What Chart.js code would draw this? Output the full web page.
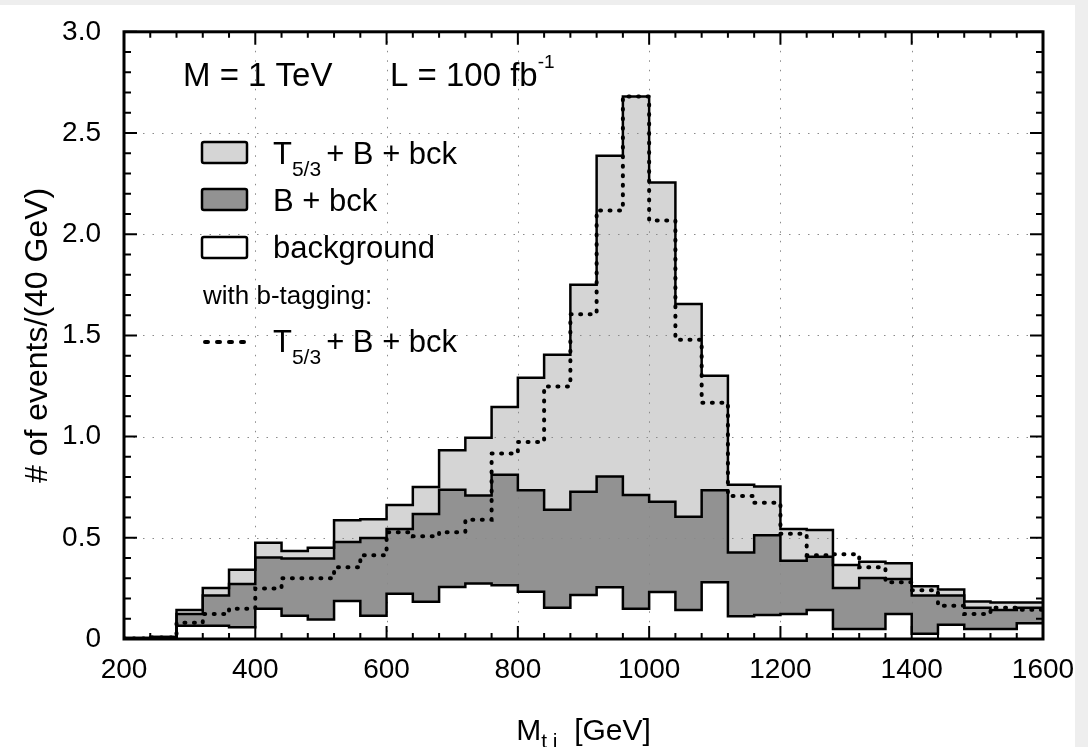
<!DOCTYPE html>
<html>
<head>
<meta charset="utf-8">
<title>M_tj distribution</title>
<script src="https://cdn.jsdelivr.net/npm/chart.js@4.4.1/dist/chart.umd.min.js"></script>
<style>
  html, body { margin: 0; padding: 0; background: #eeeeee; }
  #wrap { width: 1088px; height: 747px; position: relative; }
</style>
</head>
<body>
<div id="wrap"><canvas id="mtjChart"></canvas></div>
<script>
// 40 GeV bins, lower edges plus the final upper edge
const binEdges = [200, 240, 280, 320, 360, 400, 440, 480, 520, 560, 600, 640, 680, 720, 760, 800, 840, 880,
                  920, 960, 1000, 1040, 1080, 1120, 1160, 1200, 1240, 1280, 1320, 1360, 1400, 1440, 1480, 1520, 1560, 1600];

// T5/3 + B + bck (light grey)
const signalTotal = [0.005, 0.01, 0.143, 0.252, 0.342, 0.476, 0.435, 0.451, 0.587, 0.592, 0.662, 0.751, 0.932, 0.994,
                     1.146, 1.291, 1.405, 1.75, 2.388, 2.68, 2.256, 1.655, 1.301, 0.762, 0.754, 0.544, 0.539, 0.366,
                     0.382, 0.374, 0.261, 0.245, 0.185, 0.18, 0.18];
// B + bck (dark grey)
const singleB = [0.005, 0.01, 0.123, 0.215, 0.272, 0.403, 0.398, 0.398, 0.479, 0.499, 0.544, 0.617, 0.738, 0.709,
                 0.811, 0.735, 0.638, 0.727, 0.803, 0.711, 0.678, 0.604, 0.735, 0.427, 0.512, 0.387, 0.406, 0.252,
                 0.301, 0.296, 0.215, 0.215, 0.155, 0.143, 0.155];
// background (white)
const background = [0.003, 0.005, 0.066, 0.065, 0.058, 0.15, 0.115, 0.096, 0.188, 0.115, 0.223, 0.184, 0.257, 0.274,
                    0.266, 0.233, 0.155, 0.217, 0.256, 0.15, 0.232, 0.143, 0.28, 0.112, 0.118, 0.123, 0.143, 0.05,
                    0.05, 0.123, 0.026, 0.071, 0.05, 0.05, 0.078];
// with b-tagging: T5/3 + B + bck (dotted)
const btagTotal = [0.003, 0.008, 0.08, 0.123, 0.15, 0.25, 0.30, 0.30, 0.354, 0.414, 0.528, 0.508, 0.528, 0.589,
                   0.916, 0.973, 1.248, 1.605, 2.117, 2.68, 2.068, 1.479, 1.167, 0.706, 0.673, 0.52, 0.414, 0.419,
                   0.354, 0.28, 0.241, 0.164, 0.123, 0.155, 0.144];

const xTickLabels = ['200', '400', '600', '800', '1000', '1200', '1400', '1600'];
const yTickLabels = ['0', '0.5', '1.0', '1.5', '2.0', '2.5', '3.0'];

const FONT = "'Liberation Sans', Arial, Helvetica, sans-serif";
const LIGHT = '#d5d5d5';
const DARK = '#929292';

function toSteps(values) {
    // one point per lower edge, then the last edge closes the final bin
    const pts = values.map((v, i) => ({ x: binEdges[i], y: v }));
    pts.push({ x: binEdges[values.length], y: values[values.length - 1] });
    return pts;
}

function text(ctx, str, x, y, size, align) {
    ctx.fillStyle = '#000';
    ctx.font = size + 'px ' + FONT;
    ctx.textAlign = align || 'left';
    ctx.fillText(str, x, y);
    return ctx.measureText(str).width;
}

// "T" with a 5/3 subscript followed by the rest of the label
function drawT53(ctx, x, base) {
    let w = text(ctx, 'T', x, base, 31);
    w += text(ctx, '5/3', x + w, base + 12, 21);
    text(ctx, '+ B + bck', x + w + 5, base, 31);
}

function legendBox(ctx, x, y, fill) {
    ctx.beginPath();
    ctx.roundRect(x, y, 45, 21, 2);
    ctx.fillStyle = fill;
    ctx.fill();
    ctx.lineWidth = 2.5;
    ctx.strokeStyle = '#000';
    ctx.stroke();
}

const decorations = {
    id: 'decorations',
    beforeDraw(chart) {
        const ctx = chart.ctx;
        ctx.save();
        ctx.fillStyle = '#eeeeee';
        ctx.fillRect(0, 0, chart.width, chart.height);
        ctx.fillStyle = '#ffffff';
        ctx.fillRect(0, 5, 1075, chart.height - 5);
        ctx.restore();
    },
    beforeDatasetsDraw(chart) {
        // dotted grid sits on the fills but under the outlines
        const { ctx, chartArea: a, scales: { x, y } } = chart;
        ctx.save();
        ctx.strokeStyle = '#8a8a8a';
        ctx.lineWidth = 1;
        ctx.setLineDash([1.5, 8]);
        ctx.beginPath();
        for (let v = 400; v < 1600; v += 200) {
            const px = Math.round(x.getPixelForValue(v)) + 0.5;
            ctx.moveTo(px, a.top);
            ctx.lineTo(px, a.bottom);
        }
        for (let v = 0.5; v < 3; v += 0.5) {
            const py = Math.round(y.getPixelForValue(v)) + 0.5;
            ctx.moveTo(a.left, py);
            ctx.lineTo(a.right, py);
        }
        ctx.stroke();
        ctx.restore();
    },
    afterDraw(chart) {
        const { ctx, chartArea: a, scales: { x, y } } = chart;
        ctx.save();
        ctx.strokeStyle = '#000';
        ctx.fillStyle = '#000';

        // inward ticks on all four sides
        ctx.lineWidth = 2;
        ctx.beginPath();
        for (let v = 200; v <= 1600; v += 40) {
            const px = x.getPixelForValue(v);
            const len = (v % 200 === 0) ? 13 : 6;
            ctx.moveTo(px, a.bottom); ctx.lineTo(px, a.bottom - len);
            ctx.moveTo(px, a.top); ctx.lineTo(px, a.top + len);
        }
        for (let k = 0; k <= 30; k++) {
            const py = y.getPixelForValue(k / 10);
            const len = (k % 5 === 0) ? 13 : 7;
            ctx.moveTo(a.left, py); ctx.lineTo(a.left + len, py);
            ctx.moveTo(a.right, py); ctx.lineTo(a.right - len, py);
        }
        ctx.stroke();

        ctx.lineWidth = 3;
        ctx.strokeRect(a.left, a.top, a.right - a.left, a.bottom - a.top);

        // axis titles
        ctx.textBaseline = 'alphabetic';
        ctx.font = '30px ' + FONT;
        const wM = ctx.measureText('M').width;
        ctx.font = '21px ' + FONT;
        const wSub = ctx.measureText('t j').width;
        ctx.font = '30px ' + FONT;
        const wRest = ctx.measureText('  [GeV]').width;
        let tx = (a.left + a.right) / 2 - (wM + wSub + wRest) / 2;
        tx += text(ctx, 'M', tx, 740, 30);
        tx += text(ctx, 't j', tx, 748, 21);
        text(ctx, '  [GeV]', tx, 740, 30);

        ctx.save();
        ctx.translate(47, (a.top + a.bottom) / 2);
        ctx.rotate(-Math.PI / 2);
        text(ctx, '# of events/(40 GeV)', 0, 0, 32, 'center');
        ctx.restore();

        // annotation
        text(ctx, 'M = 1 TeV', 183, 86, 33);
        const wL = text(ctx, 'L = 100 fb', 390, 86, 33);
        text(ctx, '-1', 390 + wL, 68, 19);

        // legend
        legendBox(ctx, 202, 142, LIGHT);
        drawT53(ctx, 273, 164);
        legendBox(ctx, 202, 189, DARK);
        text(ctx, 'B + bck', 273, 211, 31);
        legendBox(ctx, 202, 237, '#ffffff');
        text(ctx, 'background', 273, 258, 31);
        text(ctx, 'with b-tagging:', 203, 304, 26);
        ctx.strokeStyle = '#000';
        ctx.lineWidth = 4;
        ctx.lineCap = 'round';
        ctx.setLineDash([3, 9]);
        ctx.beginPath();
        ctx.moveTo(205, 342);
        ctx.lineTo(247, 342);
        ctx.stroke();
        ctx.setLineDash([]);
        drawT53(ctx, 273, 352);

        ctx.restore();
    }
};

const ctx = document.getElementById('mtjChart').getContext('2d');

new Chart(ctx, {
    type: 'line',
    data: {
        datasets: [
            {
                label: 'with b-tagging: T5/3 + B + bck',
                data: toSteps(btagTotal),
                stepped: 'before',
                borderColor: '#000',
                borderWidth: 4,
                borderDash: [1, 8.5],
                borderCapStyle: 'round',
                fill: false,
                pointRadius: 0,
                order: 0
            },
            {
                label: 'background',
                data: toSteps(background),
                stepped: 'before',
                borderColor: '#000',
                borderWidth: 2.5,
                backgroundColor: '#ffffff',
                fill: 'origin',
                pointRadius: 0,
                order: 1
            },
            {
                label: 'B + bck',
                data: toSteps(singleB),
                stepped: 'before',
                borderColor: '#000',
                borderWidth: 2.5,
                backgroundColor: DARK,
                fill: 'origin',
                pointRadius: 0,
                order: 2
            },
            {
                label: 'T5/3 + B + bck',
                data: toSteps(signalTotal),
                stepped: 'before',
                borderColor: '#000',
                borderWidth: 2.5,
                backgroundColor: LIGHT,
                fill: 'origin',
                pointRadius: 0,
                order: 3
            }
        ]
    },
    options: {
        responsive: true,
        maintainAspectRatio: false,
        animation: false,
        layout: { padding: { top: 21, right: 45, left: 0, bottom: 0 } },
        scales: {
            x: {
                type: 'linear',
                min: 200,
                max: 1600,
                grid: { display: false },
                border: { display: false },
                ticks: {
                    stepSize: 200,
                    autoSkip: false,
                    maxRotation: 0,
                    padding: 6,
                    color: '#000',
                    font: { family: FONT, size: 28 },
                    callback: (v, i) => xTickLabels[i]
                },
                afterFit: (scale) => { scale.height = 108; }
            },
            y: {
                min: 0,
                max: 3,
                grid: { display: false },
                border: { display: false },
                ticks: {
                    stepSize: 0.5,
                    padding: 15,
                    color: '#000',
                    font: { family: FONT, size: 28 },
                    callback: (v, i) => yTickLabels[i]
                },
                afterFit: (scale) => { scale.width = 124; }
            }
        },
        plugins: {
            legend: { display: false },
            tooltip: { enabled: false },
            filler: { drawTime: 'beforeDatasetsDraw' }
        }
    },
    plugins: [decorations]
});
</script>
</body>
</html>
